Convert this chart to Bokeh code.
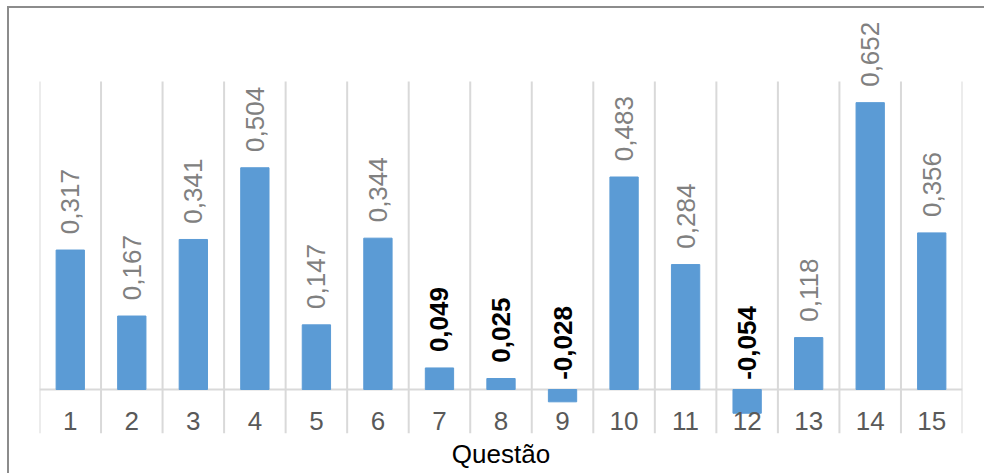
import math
from bokeh.plotting import figure
from bokeh.models import ColumnDataSource, Range1d, FixedTicker, InlineStyleSheet
from bokeh.core.properties import value
from bokeh.embed import file_html
from bokeh.resources import INLINE

# ---- data ----
questions = list(range(1, 16))
coefs = [0.317, 0.167, 0.341, 0.504, 0.147, 0.344, 0.049, 0.025, -0.028,
         0.483, 0.284, -0.054, 0.118, 0.652, 0.356]
labels = [("%.3f" % v).replace(".", ",") for v in coefs]
x_title = "Questão"

BAR = "#5B9BD5"
GRID = "#d9d9d9"
FONT = "Liberation Sans"

p = figure(width=984, height=473, output_backend="svg", toolbar_location=None,
           x_range=Range1d(0.5, 15.5), y_range=Range1d(-0.1, 0.866),
           min_border_left=39, min_border_right=22, min_border_top=8,
           min_border_bottom=40)
p.outline_line_color = None
p.background_fill_color = "white"
p.border_fill_color = "white"
p.xgrid.visible = False
p.ygrid.visible = False
p.yaxis.visible = False

# category separators and zero line
n = len(questions)
seps = [q - 0.5 for q in questions] + [questions[-1] + 0.5]
p.segment(x0=seps, x1=seps, y0=[-0.1] * len(seps), y1=[0.7] * len(seps),
          line_color=GRID, line_width=2)
p.segment(x0=[0.5], x1=[n + 0.5], y0=[0], y1=[0], line_color=GRID, line_width=2)

# bars
src = ColumnDataSource(dict(x=questions, top=coefs))
p.vbar(x="x", top="top", bottom=0, width=0.46, source=src, fill_color=BAR,
       line_color=BAR)

# data labels
ly, lc, lw = [], [], []
for v in coefs:
    if v >= 0:
        ly.append(v + 0.036)
    else:
        ly.append(0.022)
    if abs(v) < 0.1:
        lc.append("#000000"); lw.append("bold")
    else:
        lc.append("#808080"); lw.append("normal")
lsrc = ColumnDataSource(dict(x=questions, y=ly, t=labels, c=lc, w=lw))
p.text(x="x", y="y", text="t", source=lsrc, angle=math.pi / 2,
       text_align="left", text_baseline="middle", text_color="c",
       text_font_style="w", text_font=value(FONT), text_font_size="26px")

# x axis
ax = p.xaxis[0]
ax.ticker = FixedTicker(ticks=questions)
ax.axis_line_color = None
ax.major_tick_line_color = None
ax.minor_tick_line_color = None
ax.major_label_standoff = -28
ax.major_label_text_font = FONT
ax.major_label_text_font_size = "26px"
ax.major_label_text_color = "#595959"
ax.axis_label = x_title
ax.axis_label_standoff = 6
ax.axis_label_text_font = FONT
ax.axis_label_text_font_size = "26px"
ax.axis_label_text_font_style = "normal"
ax.axis_label_text_color = "#000000"

# chart border (left and top edges of the chart box)
p.stylesheets = [InlineStyleSheet(css="""
:host { position: relative; }
:host::before {
  content: ""; position: absolute; left: 7px; top: 6px; width: 977px; height: 0;
  border-top: 2px solid #8c8c8c; pointer-events: none; z-index: 10;
}
:host::after {
  content: ""; position: absolute; left: 7px; top: 6px; width: 0; height: 467px;
  border-left: 2px solid #8c8c8c; pointer-events: none; z-index: 10;
}
""")]

open("out.html", "w").write(file_html(p, INLINE))
